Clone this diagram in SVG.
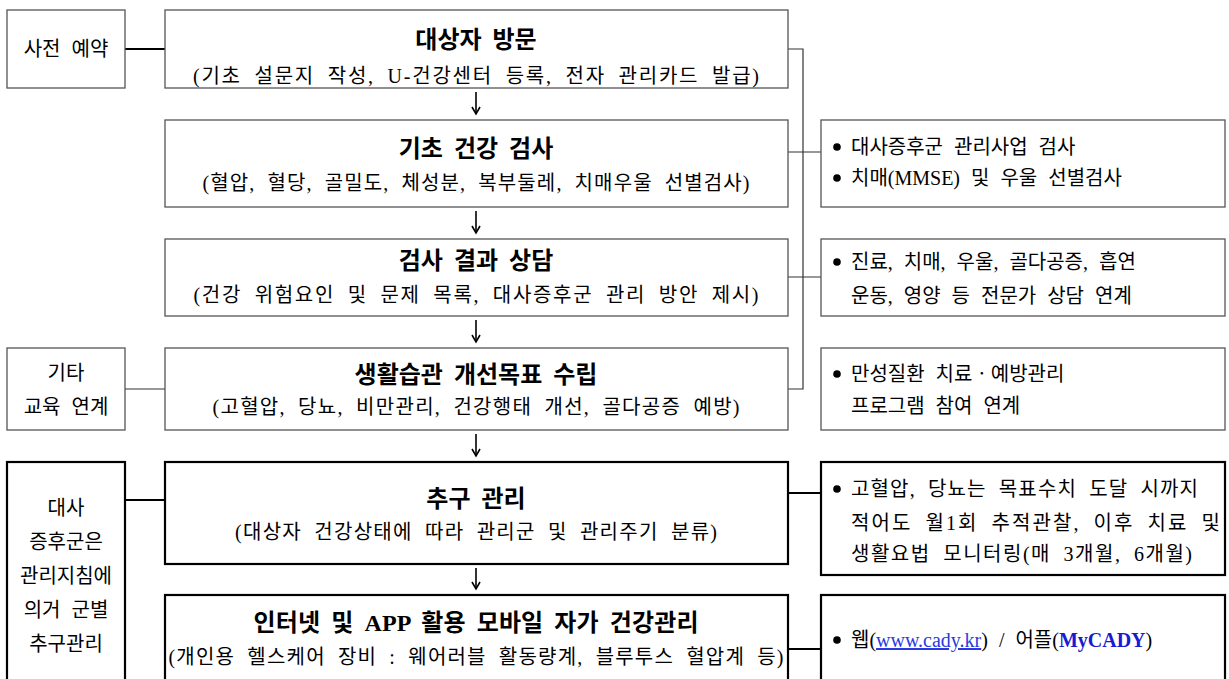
<svg xmlns="http://www.w3.org/2000/svg" width="1229" height="679" viewBox="0 0 1229 679">
<style>
.t{font-family:"Liberation Serif","Noto Sans CJK KR",sans-serif;fill:#000}
.ttl{font-size:24px;font-weight:700;text-anchor:middle;word-spacing:5px}
.sub{font-size:20px;text-anchor:middle;word-spacing:6px}
.mid{font-size:20px;text-anchor:middle;word-spacing:6px}
.body{font-size:20px;word-spacing:6px}
.thin{fill:#fff;stroke:#555;stroke-width:1.3}
.thick{fill:#fff;stroke:#000;stroke-width:2.2}
.ln{stroke:#333;stroke-width:1.2;fill:none}
.lnb{stroke:#000;stroke-width:2.2;fill:none}
.arr{stroke:#000;stroke-width:1.6;fill:none;marker-end:url(#ah)}
.link{fill:#2a3adf;text-decoration:underline}
.app{fill:#1a1ad0;font-weight:700}
</style>
<defs>
<marker id="ah" markerWidth="10" markerHeight="10" refX="8" refY="5" orient="auto" markerUnits="userSpaceOnUse" viewBox="0 0 10 10">
<path d="M1,1 L8,5 L1,9" fill="none" stroke="#000" stroke-width="1.6"/>
</marker>
</defs>
<rect width="1229" height="679" fill="#fff"/>

<g id="connectors">
<line class="lnb" x1="125" y1="49" x2="165" y2="49"/>
<line class="ln" x1="125" y1="389" x2="165" y2="389"/>
<line class="lnb" x1="125" y1="500" x2="165" y2="500"/>
<polyline class="ln" points="788,49 803,49 803,389 788,389"/>
<line class="ln" x1="788" y1="152" x2="821" y2="152"/>
<line class="ln" x1="788" y1="277" x2="821" y2="277"/>
<line class="lnb" x1="788" y1="493" x2="821" y2="493"/>
<line class="lnb" x1="788" y1="649" x2="821" y2="649"/>
<line class="arr" x1="476" y1="92" x2="476" y2="114"/>
<line class="arr" x1="476" y1="211" x2="476" y2="233"/>
<line class="arr" x1="476" y1="320" x2="476" y2="342"/>
<line class="arr" x1="476" y1="434" x2="476" y2="456"/>
<line class="arr" x1="476" y1="568" x2="476" y2="589"/>
</g>

<g id="pre-reservation">
<rect class="thin" x="7" y="10" width="118" height="78"/>
<text class="t mid" x="66" y="56">사전 예약</text>
</g>

<g id="other-education">
<rect class="thin" x="7" y="348" width="118" height="82"/>
<text class="t mid" x="66" y="380">기타</text>
<text class="t mid" x="66" y="414">교육 연계</text>
</g>

<g id="metabolic-followup">
<rect class="thick" x="7" y="462" width="118" height="230"/>
<text class="t mid" x="66" y="515">대사</text>
<text class="t mid" x="66" y="549">증후군은</text>
<text class="t mid" x="66" y="583">관리지침에</text>
<text class="t mid" x="66" y="617">의거 군별</text>
<text class="t mid" x="66" y="651">추구관리</text>
</g>

<g id="visit">
<rect class="thin" x="165" y="10" width="623" height="78"/>
<text class="t ttl" x="476" y="48">대상자 방문</text>
<text class="t sub" x="476" y="83" textLength="566" lengthAdjust="spacing">(기초 설문지 작성, U-건강센터 등록, 전자 관리카드 발급)</text>
</g>

<g id="basic-exam">
<rect class="thin" x="165" y="120" width="623" height="87"/>
<text class="t ttl" x="476" y="157">기초 건강 검사</text>
<text class="t sub" x="476" y="190" textLength="547" lengthAdjust="spacing">(혈압, 혈당, 골밀도, 체성분, 복부둘레, 치매우울 선별검사)</text>
</g>

<g id="result-counsel">
<rect class="thin" x="165" y="239" width="623" height="77"/>
<text class="t ttl" x="476" y="269">검사 결과 상담</text>
<text class="t sub" x="476" y="302" textLength="565" lengthAdjust="spacing">(건강 위험요인 및 문제 목록, 대사증후군 관리 방안 제시)</text>
</g>

<g id="lifestyle-goal">
<rect class="thin" x="165" y="348" width="623" height="82"/>
<text class="t ttl" x="476" y="383">생활습관 개선목표 수립</text>
<text class="t sub" x="476" y="414" textLength="527" lengthAdjust="spacing">(고혈압, 당뇨, 비만관리, 건강행태 개선, 골다공증 예방)</text>
</g>

<g id="followup">
<rect class="thick" x="165" y="462" width="623" height="102"/>
<text class="t ttl" x="476" y="507">추구 관리</text>
<text class="t sub" x="476" y="539" textLength="482" lengthAdjust="spacing">(대상자 건강상태에 따라 관리군 및 관리주기 분류)</text>
</g>

<g id="mobile-self-care">
<rect class="thick" x="165" y="595" width="623" height="100"/>
<text class="t ttl" x="476" y="631" textLength="445" lengthAdjust="spacing">인터넷 및 APP 활용 모바일 자가 건강관리</text>
<text class="t sub" x="476" y="664" textLength="615" lengthAdjust="spacing">(개인용 헬스케어 장비 : 웨어러블 활동량계, 블루투스 혈압계 등)</text>
</g>

<g id="note-exam">
<rect class="thin" x="821" y="120" width="404" height="87"/>
<circle cx="837" cy="147" r="3.8"/>
<text class="t body" x="851" y="154">대사증후군 관리사업 검사</text>
<circle cx="837" cy="178" r="3.8"/>
<text class="t body" x="851" y="185">치매(MMSE) 및 우울 선별검사</text>
</g>

<g id="note-counsel">
<rect class="thin" x="821" y="239" width="404" height="77"/>
<circle cx="837" cy="262" r="3.8"/>
<text class="t body" x="851" y="269">진료, 치매, 우울, 골다공증, 흡연</text>
<text class="t body" x="851" y="303">운동, 영양 등 전문가 상담 연계</text>
</g>

<g id="note-chronic">
<rect class="thin" x="821" y="348" width="404" height="82"/>
<circle cx="837" cy="374" r="3.8"/>
<text class="t body" x="851" y="381">만성질환 치료ㆍ예방관리</text>
<text class="t body" x="851" y="413">프로그램 참여 연계</text>
</g>

<g id="note-followup">
<rect class="thick" x="821" y="462" width="404" height="113"/>
<circle cx="837" cy="489" r="3.8"/>
<text class="t body" x="851" y="496" textLength="347" lengthAdjust="spacing">고혈압, 당뇨는 목표수치 도달 시까지</text>
<text class="t body" x="851" y="530" textLength="369" lengthAdjust="spacing">적어도 월1회 추적관찰, 이후 치료 및</text>
<text class="t body" x="851" y="561" textLength="341" lengthAdjust="spacing">생활요법 모니터링(매 3개월, 6개월)</text>
</g>

<g id="note-web">
<rect class="thick" x="821" y="595" width="404" height="100"/>
<circle cx="837" cy="640" r="3.8"/>
<text class="t body" x="851" y="647">웹(<tspan class="link">www.cady.kr</tspan>) / 어플(<tspan class="app">MyCADY</tspan>)</text>
</g>
</svg>
